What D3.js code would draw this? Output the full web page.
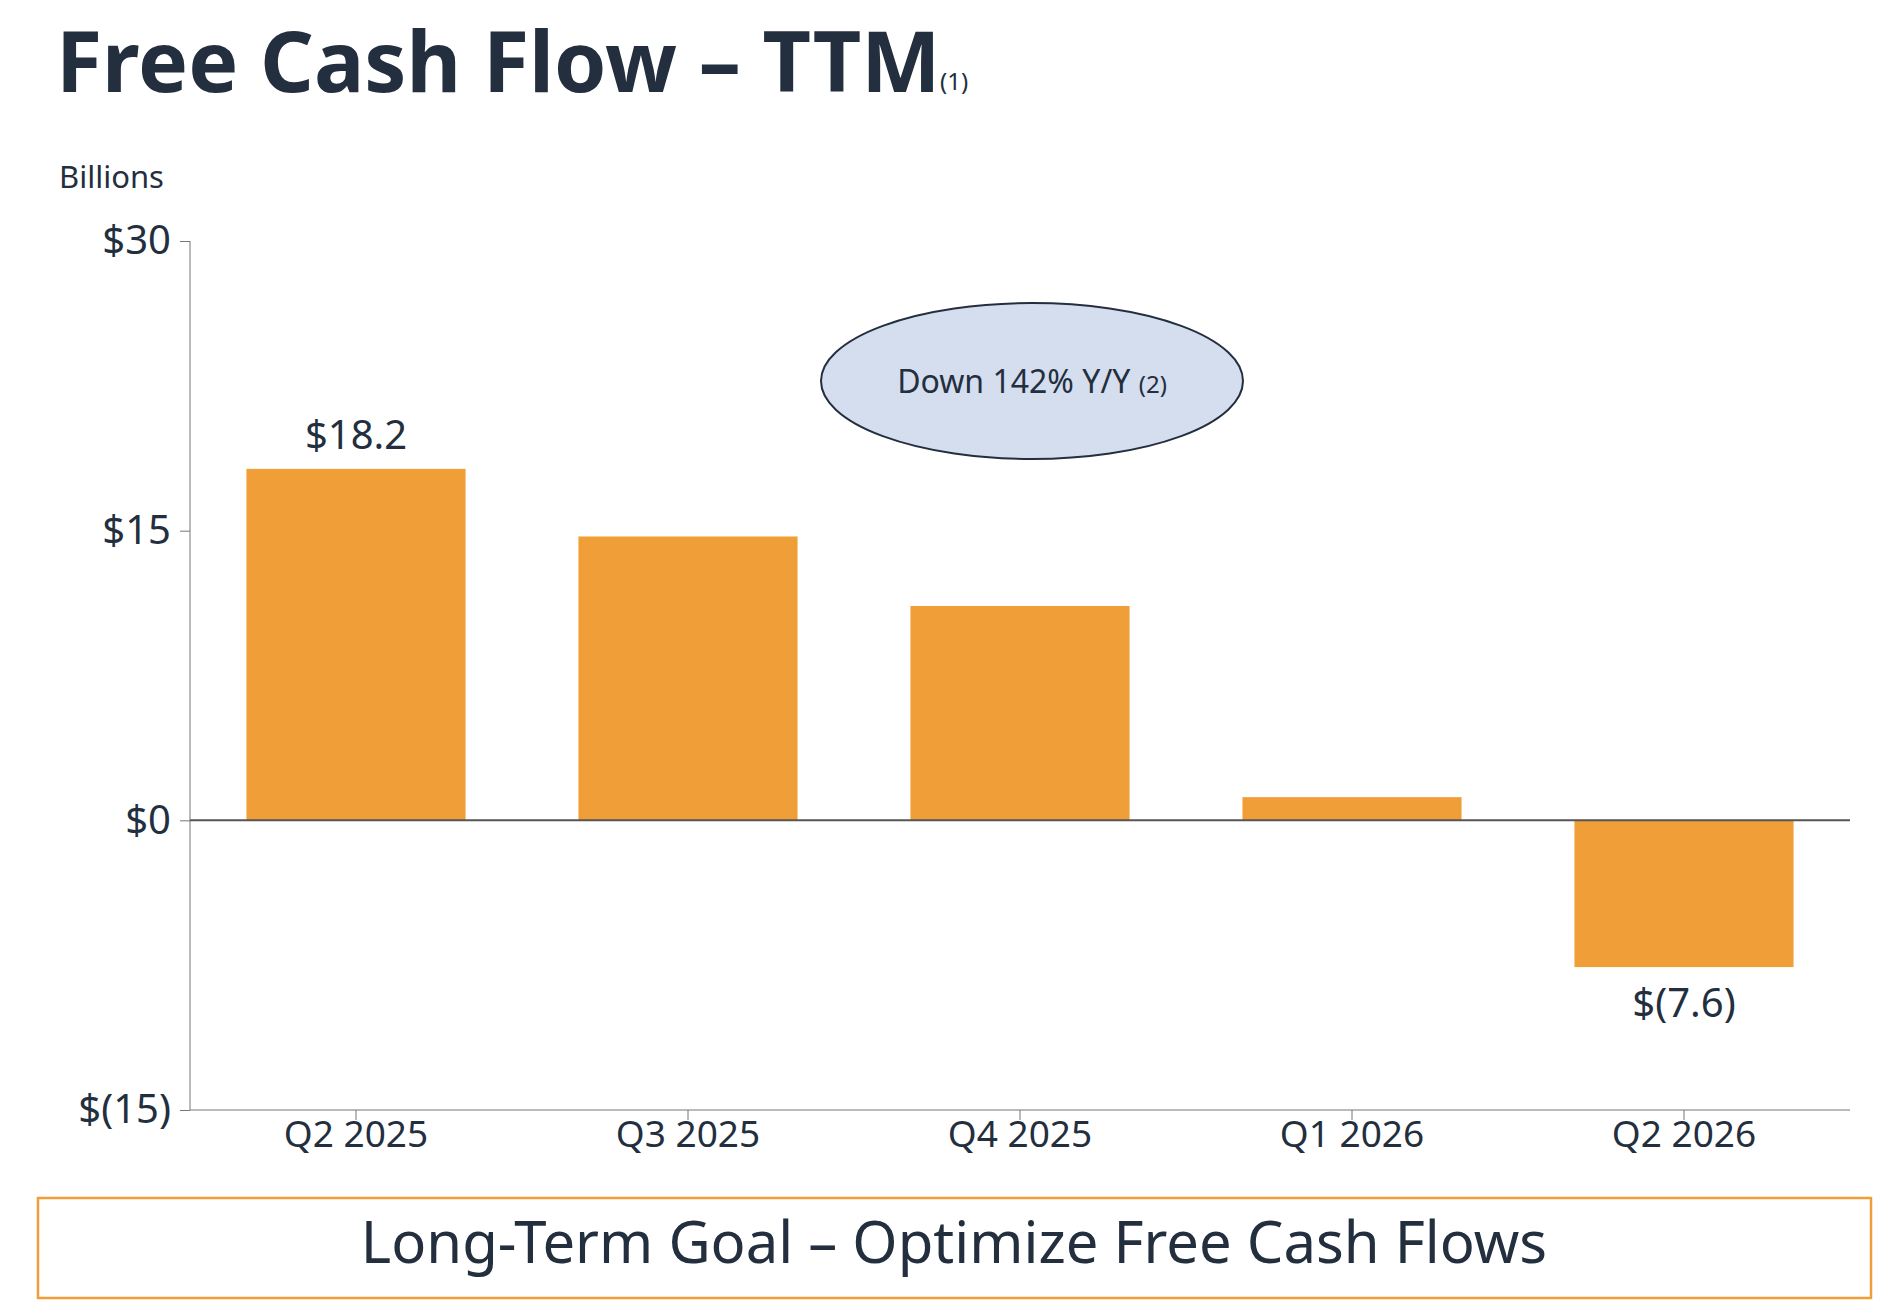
<!DOCTYPE html>
<html><head><meta charset="utf-8">
<script src="https://cdn.jsdelivr.net/npm/d3@7"></script>
<style>body{margin:0;background:#fff}text{font-family:"Noto Sans",sans-serif;fill:#232F3E}</style>
</head><body><svg id="c" width="1882" height="1304"></svg>
<script>
const categories=["Q2 2025","Q3 2025","Q4 2025","Q1 2026","Q2 2026"];
const values=[18.2,14.7,11.1,1.2,-7.6];
const labels=["$18.2","","","","$(7.6)"];
const tickValues=[30,15,0,-15];
const tickLabels=["$30","$15","$0","$(15)"];
const svg=d3.select("#c");
const y=d3.scaleLinear().domain([-15,30]).range([1110,241]);
const x=d3.scaleBand().domain(categories).range([190,1850]).paddingInner(0.34).paddingOuter(0.17);
svg.append("text").attr("x",56).attr("y",92).attr("font-size",84).attr("font-weight",700).text("Free Cash Flow – TTM");
svg.append("text").attr("x",940).attr("y",90).attr("font-size",24).text("(1)");
svg.append("text").attr("x",59).attr("y",188).attr("font-size",31).text("Billions");
const ya=svg.append("g").attr("transform","translate(190,0)").call(d3.axisLeft(y).tickValues(tickValues).tickSize(10).tickFormat((d,i)=>tickLabels[i]));
ya.select(".domain").attr("stroke","#777").attr("d","M0,241V1110");
ya.selectAll("line").attr("stroke","#777");
ya.selectAll("text").attr("font-size",40).attr("dx",-6).style("font-family","Noto Sans").attr("fill","#232F3E");
svg.selectAll("rect.b").data(values).join("rect").attr("class","b")
 .attr("x",(d,i)=>x(categories[i])).attr("width",x.bandwidth())
 .attr("y",d=>y(Math.max(0,d))).attr("height",d=>Math.abs(y(d)-y(0))).attr("fill","#F09F38");
svg.append("line").attr("x1",190).attr("x2",1850).attr("y1",y(0)).attr("y2",y(0)).attr("stroke","#555").attr("stroke-width",2);
const xa=svg.append("g").attr("transform","translate(0,1110)").call(d3.axisBottom(x).tickSize(10));
xa.select(".domain").attr("stroke","#777").attr("d","M190,0H1850");
xa.selectAll("line").attr("stroke","#777");
xa.selectAll("text").attr("font-size",37).attr("dy",24).style("font-family","Noto Sans").attr("fill","#232F3E");
svg.selectAll("text.v").data(values).join("text").attr("class","v").attr("text-anchor","middle")
 .attr("x",(d,i)=>x(categories[i])+x.bandwidth()/2)
 .attr("y",d=>d>=0?y(d)-20:y(d)+50).attr("font-size",40).text((d,i)=>labels[i]);
svg.append("ellipse").attr("cx",1032).attr("cy",381).attr("rx",211).attr("ry",78).attr("fill","#D5DEEE").attr("stroke","#232F3E").attr("stroke-width",2);
const t=svg.append("text").attr("x",1032).attr("y",393).attr("text-anchor","middle").attr("font-size",32);
t.append("tspan").text("Down 142% Y/Y ");t.append("tspan").attr("font-size",24).text("(2)");
svg.append("rect").attr("x",38).attr("y",1198).attr("width",1833).attr("height",100).attr("fill","none").attr("stroke","#F09F38").attr("stroke-width",2.5);
svg.append("text").attr("x",954).attr("y",1263).attr("text-anchor","middle").attr("font-size",58).text("Long-Term Goal – Optimize Free Cash Flows");
</script></body></html>
